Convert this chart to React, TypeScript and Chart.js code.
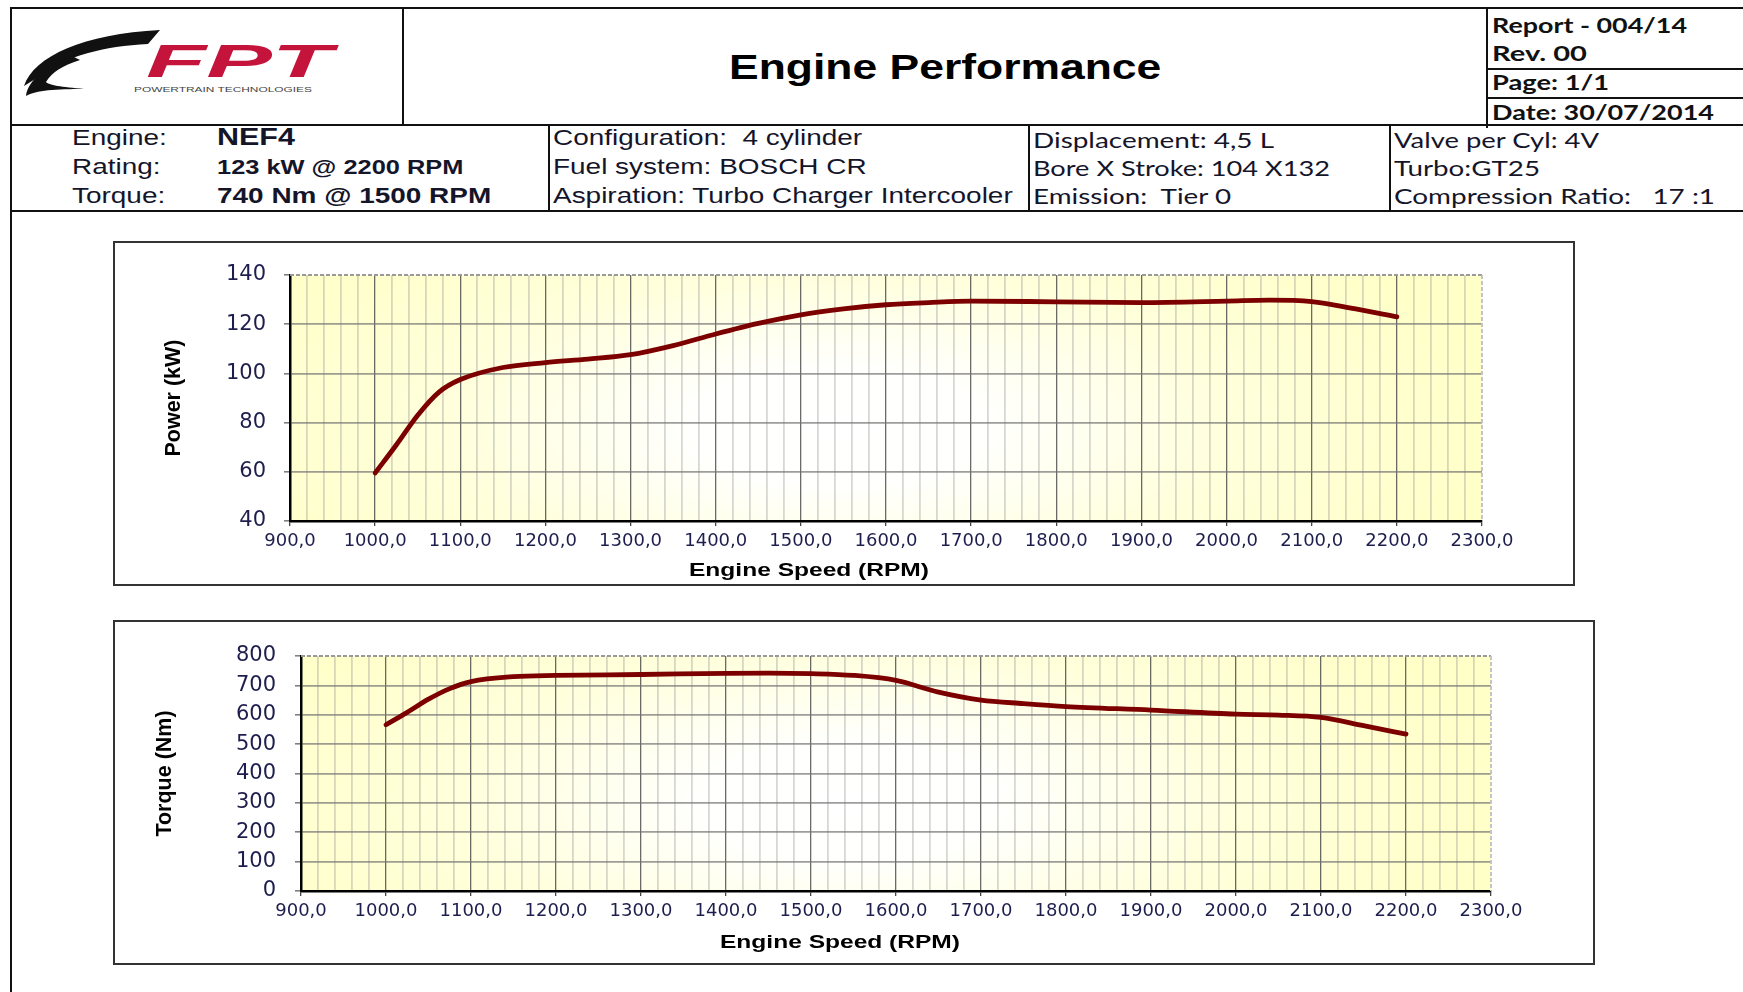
import React, { useEffect, useLayoutEffect, useRef } from 'react';
import { Chart, registerables } from 'chart.js';

Chart.register(...registerables);

// ---------------- data ----------------
const POWER_RPM = [1000, 1025, 1050, 1075, 1100, 1150, 1200, 1250, 1300, 1350, 1400, 1450, 1500, 1550, 1600, 1650, 1700, 1800, 1900, 2000, 2050, 2100, 2150, 2200];
const POWER_KW = [59.5, 71, 83, 92.4, 97.5, 102.4, 104.4, 105.8, 107.6, 111.3, 116, 120.3, 123.8, 126.2, 127.9, 128.8, 129.4, 129.1, 128.8, 129.4, 129.8, 129.2, 126.3, 123];

const TORQUE_RPM = [1000, 1025, 1050, 1075, 1100, 1150, 1200, 1300, 1400, 1450, 1500, 1550, 1600, 1650, 1700, 1750, 1800, 1900, 2000, 2050, 2100, 2150, 2200];
const TORQUE_NM = [566, 608, 653, 689, 713, 730, 734, 737, 741, 742, 740, 734, 717, 677, 650, 638, 628, 616, 602, 599, 591, 563, 534];

const RPM_RANGE = [900, 2300];
const RPM_MINOR_STEP = 20;
const RPM_MAJOR_STEP = 100;
const POWER_RANGE = [40, 140];
const POWER_STEP = 20;
const TORQUE_RANGE = [0, 800];
const TORQUE_STEP = 100;

const POWER_TITLE = 'Power (kW)';
const TORQUE_TITLE = 'Torque (Nm)';
const X_TITLE = 'Engine Speed (RPM)';

// ---------------- styling ----------------
const LINE_COLOR = '#7d0000';
const TICK_COLOR = '#1e1e4e';
const ARIAL = '"Liberation Sans", Arial, sans-serif';
const CALIBRI = 'Lato, "Open Sans", sans-serif';

const plotDecor = {
  id: 'plotDecor',
  beforeDraw(chart: any) {
    const { ctx, chartArea } = chart;
    if (!chartArea) return;
    const { left, top, right, bottom } = chartArea;
    const w = right - left;
    const h = bottom - top;
    ctx.save();
    ctx.beginPath();
    ctx.rect(left, top, w, h);
    ctx.clip();
    ctx.fillStyle = '#ffffc8';
    ctx.fillRect(left, top, w, h);
    const cx = left + w * 0.46;
    const cy = top + h * 0.62;
    ctx.translate(cx, cy);
    ctx.scale(1, 0.4);
    const r = w * 0.55;
    const g = ctx.createRadialGradient(0, 0, 0, 0, 0, r);
    g.addColorStop(0, 'rgba(255,255,255,1)');
    g.addColorStop(0.22, 'rgba(255,255,255,0.97)');
    g.addColorStop(0.6, 'rgba(255,255,255,0.35)');
    g.addColorStop(1, 'rgba(255,255,255,0)');
    ctx.fillStyle = g;
    ctx.fillRect(-r, -r, 2 * r, 2 * r);
    ctx.restore();
  },
  beforeDatasetsDraw(chart: any) {
    const { ctx, chartArea } = chart;
    const { left, top, right, bottom } = chartArea;
    ctx.save();
    ctx.setLineDash([4, 2]);
    ctx.lineWidth = 2;
    ctx.strokeStyle = '#9a9a9a';
    ctx.beginPath();
    ctx.moveTo(left, top);
    ctx.lineTo(right, top);
    ctx.stroke();
    ctx.strokeStyle = '#c4c4c4';
    ctx.beginPath();
    ctx.moveTo(right, top);
    ctx.lineTo(right, bottom);
    ctx.stroke();
    ctx.restore();
  },
};

type ChartProps = {
  xs: number[];
  ys: number[];
  yRange: number[];
  yStep: number;
  yTitle: string;
  padLeft: number;
  yWidth: number;
  padRight: number;
  padTop: number;
  xHeight: number;
  yTickPad: number;
};

function EngineChart(p: ChartProps) {
  const ref = useRef<HTMLCanvasElement>(null);
  useEffect(() => {
    if (!ref.current) return;
    const isMajor = (v: number) => Math.round(v) % RPM_MAJOR_STEP === 0;
    const chart = new Chart(ref.current, {
      type: 'line',
      data: {
        datasets: [
          {
            data: p.xs.map((x, i) => ({ x, y: p.ys[i] })),
            borderColor: LINE_COLOR,
            borderWidth: 4.8,
            pointRadius: 0,
            cubicInterpolationMode: 'monotone',
            fill: false,
            borderCapStyle: 'round',
            borderJoinStyle: 'round',
          },
        ],
      },
      options: {
        animation: false,
        responsive: true,
        maintainAspectRatio: false,
        layout: { padding: { left: p.padLeft, right: p.padRight, top: p.padTop, bottom: 0 } },
        plugins: { legend: { display: false }, tooltip: { enabled: false } },
        scales: {
          x: {
            type: 'linear',
            min: RPM_RANGE[0],
            max: RPM_RANGE[1],
            afterFit: (s: any) => {
              s.height = p.xHeight;
            },
            ticks: {
              stepSize: RPM_MINOR_STEP,
              autoSkip: false,
              maxRotation: 0,
              minRotation: 0,
              padding: 5,
              color: TICK_COLOR,
              font: { family: '"DejaVu Sans", sans-serif', size: 18 },
              callback: (v: any) => (isMajor(Number(v)) ? Number(v).toFixed(1).replace('.', ',') : ''),
            },
            grid: {
              color: (c: any) => {
                const v = c.tick ? c.tick.value : 0;
                if (v === RPM_RANGE[0] || v === RPM_RANGE[1]) return 'rgba(0,0,0,0)';
                return isMajor(v) ? 'rgba(80,80,80,0.85)' : 'rgba(150,150,150,0.38)';
              },
              lineWidth: (c: any) => (c.tick && isMajor(c.tick.value) ? 1.3 : 1.8),
              tickLength: 5,
              tickWidth: 1.3,
              tickColor: (c: any) => (c.tick && isMajor(c.tick.value) ? '#444' : 'rgba(0,0,0,0)'),
            },
            border: { color: '#000', width: 2.5 },
          },
          y: {
            type: 'linear',
            min: p.yRange[0],
            max: p.yRange[1],
            afterFit: (s: any) => {
              s.width = p.yWidth;
            },
            ticks: {
              stepSize: p.yStep,
              padding: p.yTickPad,
              color: TICK_COLOR,
              font: { family: '"DejaVu Sans", sans-serif', size: 21 },
            },
            grid: {
              color: (c: any) => {
                const v = c.tick ? c.tick.value : 0;
                if (v === p.yRange[0] || v === p.yRange[1]) return 'rgba(0,0,0,0)';
                return 'rgba(115,115,115,0.7)';
              },
              lineWidth: 1.7,
              tickLength: 6,
              tickWidth: 1.2,
              tickColor: '#555',
            },
            border: { color: '#000', width: 2.5 },
            title: {
              display: true,
              text: p.yTitle,
              color: '#000',
              padding: 0,
              font: { family: ARIAL, size: 21.5, weight: 'bold' },
            },
          },
        },
      },
      plugins: [plotDecor],
    } as any);
    return () => chart.destroy();
  }, []);
  return (
    <div style={{ position: 'absolute', left: 0, top: 0, width: '100%', height: '100%' }}>
      <canvas ref={ref} />
    </div>
  );
}

type TProps = {
  x: number;
  y: number;
  w?: number;
  sx?: number;
  size: number;
  bold?: boolean;
  family?: string;
  color?: string;
  center?: boolean;
  children: string;
};

function T({ x, y, w, sx, size, bold, family, color, center, children }: TProps) {
  const ref = useRef<HTMLDivElement>(null);
  useLayoutEffect(() => {
    const el = ref.current;
    if (!el) return;
    el.style.transform = 'none';
    const nat = el.getBoundingClientRect().width;
    const scale = w ? w / nat : sx || 1;
    const finalW = nat * scale;
    if (center) el.style.left = `${x - finalW / 2}px`;
    el.style.transform = `scaleX(${scale})`;
  }, [children, w, sx, x]);
  return (
    <div
      ref={ref}
      style={{
        position: 'absolute',
        left: x,
        top: y - size * 0.6,
        fontSize: size,
        lineHeight: `${size * 1.2}px`,
        fontWeight: bold ? 700 : 400,
        fontFamily: family || ARIAL,
        color: color || '#15152a',
        whiteSpace: 'pre',
        transformOrigin: '0 50%',
      }}
    >
      {children}
    </div>
  );
}

function Line({ x, y, w, h }: { x: number; y: number; w: number; h: number }) {
  return <div style={{ position: 'absolute', left: x, top: y, width: w, height: h, background: '#111' }} />;
}

function Logo() {
  return (
    <svg width={402} height={124} style={{ position: 'absolute', left: 0, top: 0 }}>
      <path d="M24 86 C34 56 84 34 160 30 L148 44 C104 46 66 56 40 76 Z" fill="#111" />
      <path d="M72 56 C46 66 28 80 26 96 C36 90 56 89 84 89 C62 87 48 85 46 82 C52 72 62 66 80 60 Z" fill="#111" />
      <text
        x={146}
        y={77}
        fontFamily={ARIAL}
        fontSize={46}
        fontWeight={900}
        fontStyle="italic"
        fill="#c4143c"
        textLength={186}
        lengthAdjust="spacingAndGlyphs"
      >
        FPT
      </text>
      <text x={134} y={92} fontFamily={ARIAL} fontSize={7} fill="#444" textLength={178} lengthAdjust="spacingAndGlyphs">
        POWERTRAIN TECHNOLOGIES
      </text>
    </svg>
  );
}

export default function App() {
  useEffect(() => {
    document.documentElement.style.overflow = 'hidden';
    document.body.style.margin = '0';
  }, []);
  const S = 1.27;
  return (
    <div
      style={{
        position: 'absolute',
        left: 0,
        top: 0,
        width: 1743,
        height: 992,
        overflow: 'hidden',
        background: '#fff',
        fontFamily: ARIAL,
      }}
    >
      {/* frame lines */}
      <Line x={10} y={7} w={1740} h={2} />
      <Line x={10} y={7} w={2} h={990} />
      <Line x={10} y={124} w={1740} h={2} />
      <Line x={10} y={210} w={1740} h={2} />
      <Line x={402} y={7} w={2} h={119} />
      <Line x={1486} y={7} w={2} h={121} />
      <Line x={1486} y={68} w={260} h={2} />
      <Line x={1486} y={97} w={260} h={2} />
      <Line x={548} y={124} w={2} h={88} />
      <Line x={1028} y={124} w={2} h={88} />
      <Line x={1389} y={124} w={2} h={88} />

      <Logo />

      <T x={945} y={67} size={35} bold sx={S} center color="#000">
        Engine Performance
      </T>

      <T x={1492} y={25} w={195} size={20} bold family={CALIBRI} color="#111">
        Report - 004/14
      </T>
      <T x={1492} y={53} w={95} size={20} bold family={CALIBRI} color="#111">
        Rev. 00
      </T>
      <T x={1492} y={82} w={117} size={20} bold family={CALIBRI} color="#111">
        Page: 1/1
      </T>
      <T x={1492} y={112} w={222} size={20} bold family={CALIBRI} color="#111">
        Date: 30/07/2014
      </T>

      <T x={72} y={138} size={22} sx={S}>Engine:</T>
      <T x={72} y={167} size={22} sx={S}>Rating:</T>
      <T x={72} y={196} size={22} sx={S}>Torque:</T>
      <T x={217} y={137} size={24} bold sx={S}>NEF4</T>
      <T x={217} y={167} size={20} bold sx={S}>123 kW @ 2200 RPM</T>
      <T x={217} y={196} size={22} bold sx={S}>740 Nm @ 1500 RPM</T>

      <T x={553} y={138} size={22} sx={S}>Configuration:  4 cylinder</T>
      <T x={553} y={167} size={22} sx={S}>Fuel system: BOSCH CR</T>
      <T x={553} y={196} size={22} sx={S}>Aspiration: Turbo Charger Intercooler</T>

      <T x={1033} y={140} w={241} size={21} family={CALIBRI}>Displacement: 4,5 L</T>
      <T x={1033} y={168} w={297} size={21} family={CALIBRI}>Bore X Stroke: 104 X132</T>
      <T x={1033} y={196} w={198} size={21} family={CALIBRI}>Emission:  Tier 0</T>

      <T x={1394} y={140} w={205} size={21} family={CALIBRI}>Valve per Cyl: 4V</T>
      <T x={1394} y={168} w={146} size={21} family={CALIBRI}>Turbo:GT25</T>
      <T x={1394} y={196} w={321} size={21} family={CALIBRI}>Compression Ratio:   17 :1</T>

      {/* Power chart */}
      <div
        style={{
          position: 'absolute',
          left: 113,
          top: 241,
          width: 1462,
          height: 345,
          boxSizing: 'border-box',
          border: '2px solid #333',
        }}
      >
        <EngineChart
          xs={POWER_RPM}
          ys={POWER_KW}
          yRange={POWER_RANGE}
          yStep={POWER_STEP}
          yTitle={POWER_TITLE}
          padLeft={46}
          yWidth={129}
          padRight={91}
          padTop={32}
          xHeight={63}
          yTickPad={18}
        />
      </div>
      <T x={809} y={570} w={240} size={19} bold center color="#000">
        {X_TITLE}
      </T>

      {/* Torque chart */}
      <div
        style={{
          position: 'absolute',
          left: 113,
          top: 620,
          width: 1482,
          height: 345,
          boxSizing: 'border-box',
          border: '2px solid #333',
        }}
      >
        <EngineChart
          xs={TORQUE_RPM}
          ys={TORQUE_NM}
          yRange={TORQUE_RANGE}
          yStep={TORQUE_STEP}
          yTitle={TORQUE_TITLE}
          padLeft={37}
          yWidth={149}
          padRight={102}
          padTop={34}
          xHeight={72}
          yTickPad={19}
        />
      </div>
      <T x={840} y={942} w={240} size={19} bold center color="#000">
        {X_TITLE}
      </T>
    </div>
  );
}
